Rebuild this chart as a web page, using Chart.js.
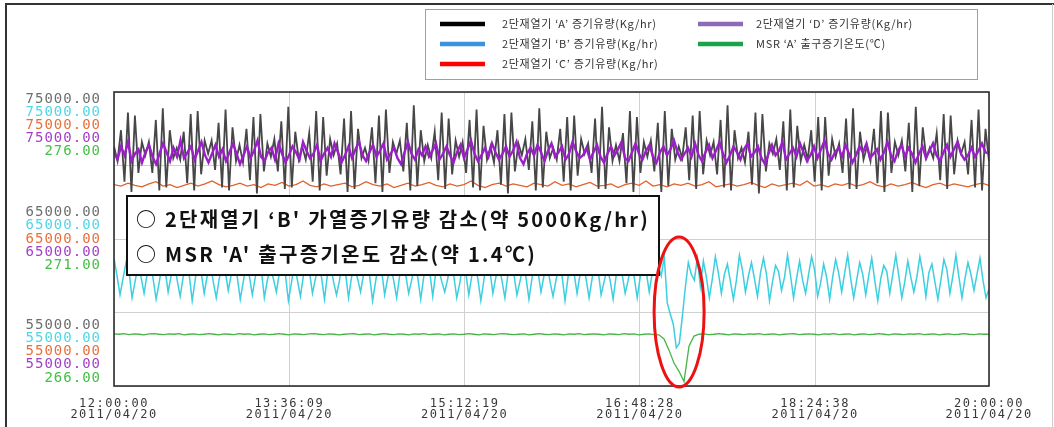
<!DOCTYPE html>
<html><head><meta charset="utf-8">
<script src="https://cdn.jsdelivr.net/npm/chart.js@4"></script>
<style>html,body{margin:0;padding:0;background:#fff;overflow:hidden}canvas{display:block}</style>
</head><body>
<canvas id="c" width="1054" height="427"></canvas>
<script>
// ---------- data ----------
const timeLabels = ['12:00:00','13:36:09','15:12:19','16:48:28','18:24:38','20:00:00'];
const dateLabel = '2011/04/20';
const tickMinutes = [0, 96.15, 192.32, 288.47, 384.63, 480];   // minutes after 12:00:00
const spanMinutes = 480;
const flowTicks = [75000, 65000, 55000];
const tempTicks = [276, 271, 266];
const seriesNames = [
  "2단재열기 ‘A’ 증기유량(Kg/hr)",
  "2단재열기 ‘B’ 증기유량(Kg/hr)",
  "2단재열기 ‘C’ 증기유량(Kg/hr)",
  "2단재열기 ‘D’ 증기유량(Kg/hr)",
  "MSR ‘A’ 출구증기온도(℃)"
];
const notes = [
  "○ 2단재열기 ‘B' 가열증기유량 감소(약 5000Kg/hr)",
  "○ MSR 'A' 출구증기온도 감소(약 1.4℃)"
];

// 2단재열기 'A' (Kg/hr)
const flowA = [
71300,70300,72400,68900,73600,68200,73400,69500,71600,
70700,71600,69500,73100,68300,73900,68500,72400,70500,
71200,70400,72300,68800,73500,68300,73700,69400,71700,
70800,71700,69700,72900,68500,73800,68300,72600,70300,
71400,70200,72500,69000,73300,68100,73500,69600,71500,
70600,71800,69600,73000,68400,74000,68500,72300,70400,
71300,70400,72200,68900,73700,68300,73300,69300,71800,
70700,71500,69400,73200,68200,73700,68400,72500,70500,
71200,70300,72600,68800,73400,68200,73800,69500,71600,
70800,71700,69600,72900,68300,74100,68600,72400,70300,
71400,70500,72300,69000,73600,68400,73200,69400,71700,
70600,71600,69500,73100,68500,73800,68300,72700,70400,
71300,70200,72400,68700,73500,68100,73600,69600,71500,
70700,71800,69700,73000,68300,73900,68500,72300,70500,
71200,70400,72500,68900,73300,68300,73400,69300,71800,
70800,71500,69500,73200,68400,74000,68400,72600,70300,
71400,70300,72200,68800,73700,68200,73300,69500,71600,
70600,71700,69600,72900,68200,73700,68600,72500,70400,
71300,70500,72600,69000,73400,68400,73700,69400,71700,
70700,71600,69400,73100,68500,74100,68300,72400,70500,
71200,70200,72300,68700,73600,68100,73500,69600,71500,
70800,71800,69700,73000,68300,73800,68500,72700,70300,
71400,70400,72400,68900,73300,68300,73300,69300,71800,
70600,71500,69500,73200,68400,73900,68400,72300,70400,
71300,70300,72500,68800,73700,68200,73600,69500,71600,
70700,71700,69600,72900,68200,74000,68600,72600,70500,
71200,70500,72200,69000,73500,68400,73400,69400,71700,
70800,71600,69400,73100,68500,73800,68300,72500,70300
];

// 2단재열기 'B' (Kg/hr)
const flowB = [
63700,62500,61200,62300, 63400,62800,61000,62100, 63200,62400,61300,62600, 63600,62300,60900,62000,
63300,62900,61400,62500, 63500,62200,61100,62400, 63100,62600,60800,62200, 63700,62700,61300,62500,
63400,62100,61000,62300, 63200,62800,61500,62600, 63600,62400,60900,62100, 63300,62500,61200,62400,
63500,62900,61000,62200, 63000,62300,61400,62700, 63700,62600,60800,62000, 63400,62200,61100,62500,
63200,62800,61300,62300, 63600,62400,60900,62600, 63300,62100,61200,62200, 63500,62700,61000,62400,
63100,62300,61400,62600, 63700,62500,60800,62100, 63400,62900,61200,62300, 63200,62200,61000,62500,
63600,62600,61300,62200, 63300,62400,60900,62400, 63500,62800,61100,62700, 63000,62100,61400,62300,
63700,62500,61000,62000, 63400,62700,61200,62500, 63200,62300,60800,62200, 63600,62900,61300,62400,
63300,62200,61000,62600, 63500,62600,61200,62100, 63100,62400,60900,62300, 63700,62800,61400,62500,
63400,62100,61100,62200, 63200,62500,60800,62400, 63600,62700,61300,62600, 63300,62300,61000,62300,
63500,62900,61200,62100, 63000,62200,60900,62500, 63700,62600,61300,62200, 63400,62400,61000,62400,
63200,62800,61400,62700, 63600,63200,62500,63800,
60650,59900,59200,57600,57900,59700,61700,63400,62600,62200,63700,61800,
63500,62400,61000,62300, 63800,62700,61300,62600, 63300,62100,60900,62200, 63900,62900,61400,62500,
63400,62300,61100,62700, 63700,62600,60800,62100, 63200,62800,61500,62400, 63900,62500,61000,62300,
63500,62200,61300,62600, 63800,62900,61100,62000, 63300,62400,60900,62400, 63600,62700,61400,62700,
63900,62300,61000,62200, 63400,62600,61200,62500, 63700,62200,60800,62300, 63200,62800,61300,62600,
63900,62500,61000,62100, 63500,62400,61400,62400, 63800,62700,61100,62700, 63300,62100,60900,62200,
63600,62900,61300,62500, 63900,62400,61000,62300, 63400,62600,61500,62600, 63700,62200,61000,61600
];

// 2단재열기 'C' (Kg/hr)
const flowC = [
68700,68600,68800,68650,68550,68750,68900,68600,68700,68500,
68650,68800,68600,68750,68950,68700,68550,68650,68800,68600,
68700,68500,68750,68650,68850,68600,68700,68950,68650,68550,
68750,68600,68700,68800,68550,68650,68900,68700,68600,68750,
68500,68650,68800,68600,68700,68850,68650,68550,68750,68600,
68700,68950,68650,68500,68700,68800,68600,68750,68650,68550,
68800,68700,68600,68900,68650,68750,68550,68700,68850,68600,
68650,68750,68500,68700,68800,68650,68950,68600,68700,68550,
68750,68650,68800,68600,68700,68900,68550,68650,68750,68600,
68700,68850,68650,68500,68750,68600,68700,68800,68650,68950,
68600,68700,68550,68750,68650,68800,68600,68700,68900,68650,
68550,68750,68600,68700,68850,68650,68500,68700,68800,68600,
68750,68650,68550,68700,68800,68650
];

// 2단재열기 'D' (Kg/hr)
const flowD = [
70900,70400,71300,70700,71600,70300,70800,71100,70200,70900,
71400,70600,70100,70800,71500,70900,70300,71200,70600,71700,
70500,70900,71300,70400,71000,71600,70700,70200,70800,71400,
70600,71100,70300,70900,71500,70800,70100,70700,71300,70500,
71000,71700,70600,70300,70900,71200,70400,71500,70800,70200,
70700,71300,70900,70400,71600,71000,70500,70800,71400,70300,
70800,71200,70600,71500,70900,70200,70700,71300,70500,71100,
71600,70700,70300,70900,71400,70600,71000,71500,70400,70800,
71200,70500,70100,70900,71600,70800,70400,71100,70700,71300,
70600,71000,71500,70400,70800,71300,70700,70200,70900,71400,
70500,71100,71700,70800,70300,70700,71200,70600,71500,70900,
70400,70800,71300,70600,71000,71600,70500,70100,70800,71200,
70700,71400,70900,70300,71000,71500,70600,70900,71300,70400,
70800,71600,71000,70500,70700,71200,70400,70900,71400,70600,
70200,70800,71300,70700,71100,71600,70500,70300,70900,71500,
70800,70400,71000,71400,70600,70200,70900,71300,70700,71100,
71700,70900,70400,70800,71200,70600,71500,70700,70300,70900,
71400,70500,71000,71600,70800,70200,70700,71300,70900,70400,
71100,71500,70600,70900,71300,70500,70100,70800,71400,70700,
71000,71600,70400,70800,71200,70600,71500,70900,70300,70700,
71300,70500,71100,71700,70800,70400,70900,71200,70600,71400,
70800,70200,70700,71300,70900,71500,70500,70800,71100,70400,
70900,71600,70700,70300,71000,71400,70600,71200,70800,70200,
70800,71300,70500,71000,71500,70700,70300,70900,71400,70600,
71100,71600,70800,70400,70700,71200,70600,71000,71500,70900,
70800
];

// MSR 'A' 출구증기온도 (℃)
const tempMSR = [
267.77,267.76,267.78,267.75,267.77,267.76,267.74,267.77,267.78,267.76,
267.75,267.77,267.76,267.78,267.74,267.76,267.77,267.75,267.76,267.78,
267.76,267.74,267.77,267.76,267.75,267.78,267.76,267.77,267.74,267.76,
267.77,267.75,267.76,267.78,267.76,267.74,267.77,267.76,267.75,267.77,
267.78,267.76,267.75,267.77,267.76,267.74,267.76,267.77,267.78,267.75,
267.76,267.77,267.74,267.76,267.78,267.76,267.75,267.77,267.76,267.74,
267.77,267.76,267.78,267.75,267.76,267.77,267.74,267.76,267.77,267.75,
267.76,267.78,267.76,267.74,267.77,267.76,267.75,267.77,267.78,267.76,
267.75,267.76,267.77,267.74,267.76,267.78,267.76,267.75,267.77,267.76,
267.74,267.77,267.76,267.78,267.75,267.76,267.77,267.76,267.74,267.77,
267.76,267.75,267.78,267.76,267.77,267.74,267.76,267.77,267.75,267.74,
267.60,267.22,266.78,266.50,266.15,267.35,267.70,267.76,267.77,267.75,
267.76,267.78,267.76,267.74,267.77,267.76,267.75,267.77,267.76,267.78,
267.75,267.76,267.77,267.74,267.76,267.77,267.78,267.75,267.76,267.77,
267.76,267.74,267.77,267.76,267.78,267.75,267.76,267.77,267.74,267.76,
267.77,267.75,267.76,267.78,267.76,267.74,267.77,267.76,267.75,267.77,
267.76,267.78,267.75,267.76,267.77,267.74,267.76,267.77,267.75,267.76,
267.78,267.76,267.75,267.77,267.76,267.76
];

const dipMinute = 310;   // where the red ellipse is centred

// ---------- styles ----------
const lineColors   = ['#474747', '#3ccfe0', '#e2602a', '#9b1fc8', '#46b446'];
const labelColors  = ['#6e6e6e', '#4fd6e6', '#e8703c', '#a23fc8', '#43bf43'];
const legendColors = ['#000000', '#3a92e0', '#ff0000', '#8c6ab4', '#19a34a'];

function toXY(arr){ return arr.map((v,i)=>({x: i*spanMinutes/(arr.length-1), y: v})); }

function fitText(ctx, text, x, y, width){
  ctx.letterSpacing = '0px';
  const w = ctx.measureText(text).width;
  const n = Array.from(text).length;
  ctx.letterSpacing = ((width - w) / n) + 'px';
  ctx.fillText(text, x, y);
  ctx.letterSpacing = '0px';
}

const overlay = {
  id: 'overlay',
  beforeDraw(chart){ chart.ctx.letterSpacing = '1.5px'; },
  afterDraw(chart){
    const {ctx, chartArea: a, scales} = chart;
    ctx.save();
    ctx.letterSpacing = '0px';
    // plot border
    ctx.strokeStyle = '#2e2e2e'; ctx.lineWidth = 1.6;
    ctx.strokeRect(a.left, a.top, a.right - a.left, a.bottom - a.top);

    // outer frame
    ctx.strokeStyle = '#333'; ctx.lineWidth = 2;
    ctx.beginPath(); ctx.moveTo(6, 427); ctx.lineTo(6, 4); ctx.lineTo(1054, 4); ctx.stroke();
    ctx.strokeStyle = '#cfcfcf'; ctx.lineWidth = 1;
    ctx.beginPath(); ctx.moveTo(1052.5, 4); ctx.lineTo(1052.5, 427); ctx.stroke();

    // y label groups
    const ys = scales.y, lh = 13.2;
    ctx.font = '14px "DejaVu Sans Mono"';
    ctx.textAlign = 'right'; ctx.textBaseline = 'middle';
    ctx.letterSpacing = '1px';
    flowTicks.forEach((v, g) => {
      const py = ys.getPixelForValue(v);
      const texts = [v, v, v, v].map(t => t.toFixed(2)).concat([tempTicks[g].toFixed(2)]);
      let start;
      if (g === 0) start = py + 7;
      else if (g === flowTicks.length - 1) start = py - 8 - lh * 4;
      else start = py - lh * 2;
      texts.forEach((t, k) => { ctx.fillStyle = labelColors[k]; ctx.fillText(t, a.left - 13, start + k * lh); });
    });
    ctx.letterSpacing = '0px';

    // annotation box
    const bx = a.left + 13, by = 196, bw = 532, bh = 79;
    ctx.fillStyle = '#fff'; ctx.fillRect(bx, by, bw, bh);
    ctx.strokeStyle = '#111'; ctx.lineWidth = 2; ctx.strokeRect(bx, by, bw, bh);
    ctx.fillStyle = '#111'; ctx.textAlign = 'left'; ctx.textBaseline = 'middle';
    ctx.font = 'bold 20px "Noto Sans CJK KR"';
    fitText(ctx, notes[0], bx + 9, by + 23, 514);
    fitText(ctx, notes[1], bx + 9, by + 58, 401);

    // red ellipse
    const ex = scales.x.getPixelForValue(dipMinute);
    ctx.strokeStyle = '#ee1111'; ctx.lineWidth = 3;
    ctx.beginPath(); ctx.ellipse(ex, 312, 25, 75, 0, 0, Math.PI * 2); ctx.stroke();

    // legend
    const lx = 425.5, ly = 9.5, lw = 552, lhgt = 70;
    ctx.fillStyle = '#fff'; ctx.fillRect(lx, ly, lw, lhgt);
    ctx.strokeStyle = '#a0a0a0'; ctx.lineWidth = 1; ctx.strokeRect(lx, ly, lw, lhgt);
    ctx.font = '11px "Noto Sans CJK KR"'; ctx.textBaseline = 'middle';
    seriesNames.forEach((name, i) => {
      const col = i < 3 ? 0 : 1, row = i < 3 ? i : i - 3;
      const x0 = col === 0 ? 440 : 698, tx = col === 0 ? 502 : 756;
      const y0 = 24 + row * 20;
      ctx.strokeStyle = legendColors[i]; ctx.lineWidth = 4.5;
      ctx.beginPath(); ctx.moveTo(x0, y0); ctx.lineTo(x0 + 45, y0); ctx.stroke();
      ctx.fillStyle = '#333';
      ctx.letterSpacing = '0.7px';
      ctx.fillText(name, tx, y0);
    });
    ctx.restore();
  }
};

const ds = (label, data, idx, axis, order, width) => ({
  label, data: toXY(data), borderColor: lineColors[idx], borderWidth: width,
  yAxisID: axis, order, pointRadius: 0, tension: 0, fill: false
});

new Chart(document.getElementById('c'), {
  type: 'line',
  data: {
    datasets: [
      ds(seriesNames[3], flowD, 3, 'y', 0, 2.4),
      ds(seriesNames[0], flowA, 0, 'y', 1, 1.8),
      ds(seriesNames[2], flowC, 2, 'y', 2, 1.3),
      ds(seriesNames[1], flowB, 1, 'y', 3, 1.5),
      ds(seriesNames[4], tempMSR, 4, 'yt', 4, 1.3)
    ]
  },
  options: {
    responsive: false, animation: false, devicePixelRatio: 1,
    layout: { padding: { left: 114, right: 65, top: 92, bottom: 0 } },
    plugins: { legend: { display: false }, tooltip: { enabled: false } },
    scales: {
      x: {
        type: 'linear', min: 0, max: spanMinutes,
        afterBuildTicks: s => { s.ticks = tickMinutes.map(v => ({ value: v })); },
        afterFit: s => { s.height = 41; },
        grid: { color: '#d0d0d0', lineWidth: 1, drawTicks: false },
        border: { display: false },
        ticks: {
          autoSkip: false, maxRotation: 0, padding: 12, color: '#383838',
          font: { family: 'DejaVu Sans Mono', size: 12, lineHeight: 0.95 },
          callback: (v, i) => [timeLabels[i], dateLabel]
        }
      },
      y: {
        min: 55000, max: 75000,
        ticks: { display: false, stepSize: 5000 },
        afterFit: s => { s.width = 0; },
        grid: { color: '#d0d0d0', lineWidth: 1, drawTicks: false },
        border: { display: false }
      },
      yt: { display: false, min: 266, max: 276 }
    }
  },
  plugins: [overlay]
});
</script>
</body></html>
